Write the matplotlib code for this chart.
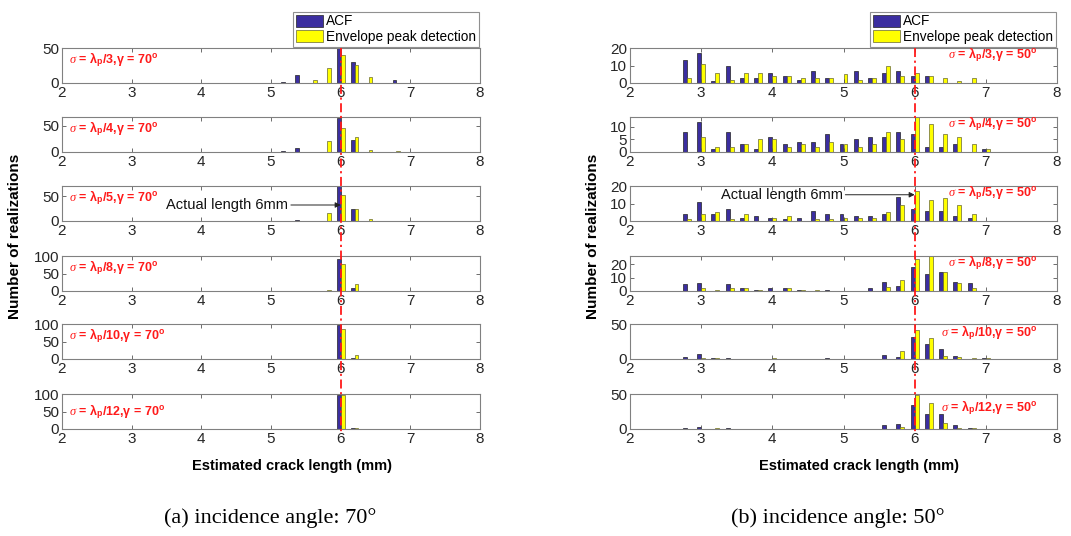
import numpy as np
import matplotlib.pyplot as plt
import matplotlib.transforms as mtransforms
from matplotlib.lines import Line2D

plt.rcParams['font.family'] = 'Liberation Sans'
plt.rcParams['mathtext.fontset'] = 'custom'
plt.rcParams['mathtext.it'] = 'Liberation Serif:italic'
plt.rcParams['mathtext.bf'] = 'Liberation Sans:bold'
plt.rcParams['mathtext.rm'] = 'Liberation Sans:bold'

# bin centres (mm)
bins = [2.6, 2.8, 3.0, 3.2, 3.4, 3.6, 3.8, 4.0, 4.2, 4.4, 4.6, 4.8,
        5.0, 5.2, 5.4, 5.6, 5.8, 6.0, 6.2, 6.4, 6.6, 6.8, 7.0]
divisors = [3, 4, 5, 8, 10, 12]

# incidence angle 70 deg
acf70_3 = [0, 0, 0, 0, 0, 0, 0, 0, 0, 0, 0, 0, 0, 1, 11, 0, 0, 53, 30, 0, 0, 5, 0]
env70_3 = [0, 0, 0, 0, 0, 0, 0, 0, 0, 0, 0, 0, 0, 0, 0, 4, 21, 40, 26, 9, 0, 0, 0]
acf70_4 = [0, 0, 0, 0, 0, 0, 0, 0, 0, 0, 0, 0, 0, 1, 7, 0, 0, 66, 23, 0, 0, 0, 0]
env70_4 = [0, 0, 0, 0, 0, 0, 0, 0, 0, 0, 0, 0, 0, 0, 0, 0, 22, 46, 29, 3, 0, 1, 0]
acf70_5 = [0, 0, 0, 0, 0, 0, 0, 0, 0, 0, 0, 0, 0, 0, 2, 0, 0, 70, 24, 0, 0, 0, 0]
env70_5 = [0, 0, 0, 0, 0, 0, 0, 0, 0, 0, 0, 0, 0, 0, 0, 0, 16, 53, 25, 5, 0, 0, 0]
acf70_8 = [0, 0, 0, 0, 0, 0, 0, 0, 0, 0, 0, 0, 0, 0, 0, 0, 0, 91, 9, 0, 0, 0, 0]
env70_8 = [0, 0, 0, 0, 0, 0, 0, 0, 0, 0, 0, 0, 0, 0, 0, 0, 3, 78, 19, 0, 0, 0, 0]
acf70_10 = [0, 0, 0, 0, 0, 0, 0, 0, 0, 0, 0, 0, 0, 0, 0, 0, 1, 97, 2, 0, 0, 0, 0]
env70_10 = [0, 0, 0, 0, 0, 0, 0, 0, 0, 0, 0, 0, 0, 0, 0, 0, 1, 86, 12, 0, 0, 0, 0]
acf70_12 = [0, 0, 0, 0, 0, 0, 0, 0, 0, 0, 0, 0, 0, 0, 0, 0, 0, 97, 3, 0, 0, 0, 0]
env70_12 = [0, 0, 0, 0, 0, 0, 0, 0, 0, 0, 0, 0, 0, 0, 0, 0, 0, 97, 3, 0, 0, 0, 0]

# incidence angle 50 deg
acf50_3 = [0, 13, 17, 1, 10, 3, 3, 6, 4, 2, 7, 3, 0, 7, 3, 6, 7, 4, 4, 0, 0, 0, 0]
env50_3 = [0, 3, 11, 6, 2, 6, 6, 4, 4, 3, 3, 3, 5, 2, 3, 10, 4, 6, 4, 3, 1, 3, 0]
acf50_4 = [0, 8, 12, 1, 8, 3, 1, 6, 3, 4, 4, 7, 3, 5, 6, 6, 8, 7, 2, 2, 3, 0, 1]
env50_4 = [0, 0, 6, 2, 2, 3, 5, 5, 2, 3, 2, 4, 3, 2, 3, 8, 5, 14, 11, 7, 6, 3, 1]
acf50_5 = [0, 4, 11, 4, 7, 2, 3, 2, 1, 2, 6, 4, 4, 3, 3, 4, 14, 7, 6, 6, 3, 2, 0]
env50_5 = [0, 1, 4, 5, 1, 4, 0, 2, 3, 0, 1, 1, 2, 2, 2, 5, 9, 17, 12, 13, 9, 4, 0]
acf50_8 = [0, 5, 6, 0, 5, 2, 1, 2, 2, 1, 0, 1, 0, 0, 2, 7, 4, 18, 13, 14, 7, 6, 0]
env50_8 = [0, 0, 2, 1, 2, 2, 1, 0, 2, 1, 1, 0, 0, 0, 0, 3, 8, 24, 26, 14, 6, 2, 0]
acf50_10 = [0, 3, 7, 1, 2, 0, 0, 0, 0, 0, 0, 2, 0, 0, 0, 6, 3, 31, 21, 15, 5, 0, 1]
env50_10 = [0, 0, 1, 1, 0, 0, 0, 1, 0, 0, 0, 0, 0, 0, 0, 0, 12, 42, 30, 4, 3, 2, 2]
acf50_12 = [0, 1, 3, 0, 2, 0, 0, 0, 0, 0, 0, 0, 0, 0, 0, 6, 7, 35, 21, 21, 6, 1, 0]
env50_12 = [0, 0, 0, 2, 0, 0, 0, 0, 0, 0, 0, 0, 0, 0, 0, 0, 3, 48, 37, 9, 2, 1, 0]

acf70 = [acf70_3, acf70_4, acf70_5, acf70_8, acf70_10, acf70_12]
env70 = [env70_3, env70_4, env70_5, env70_8, env70_10, env70_12]
acf50 = [acf50_3, acf50_4, acf50_5, acf50_8, acf50_10, acf50_12]
env50 = [env50_3, env50_4, env50_5, env50_8, env50_10, env50_12]

ytop70 = [50, 67, 70, 100, 100, 100]
yticks70 = [[0, 50], [0, 50], [0, 50], [0, 50, 100], [0, 50, 100], [0, 50, 100]]
ytop50 = [20, 14, 20, 26, 50, 50]
yticks50 = [[0, 10, 20], [0, 5, 10], [0, 10, 20], [0, 10, 20], [0, 50], [0, 50]]

actual_len = 6.0

acf_color = '#3b2ea0'
env_color = '#ffff00'
red = '#ff1a1a'

W, H = 1071, 536
fig = plt.figure(figsize=(W / 100, H / 100), dpi=100)

row_tops = [48, 117, 186, 256, 324, 394]
ax_h = 35
label_y70 = [0.66, 0.66, 0.68, 0.68, 0.66, 0.50]
label_y50 = [0.80, 0.80, 0.80, 0.80, 0.75, 0.62]
bw = 0.055
off = 0.028
x = np.array(bins)


def draw_column(x0, x1, acfs, envs, ytops, yticks, angle, label_side, label_ys):
    axes = []
    for i in range(6):
        top = row_tops[i]
        ax = fig.add_axes([x0 / W, 1 - (top + ax_h) / H, (x1 - x0) / W, ax_h / H])
        ax.bar(x - off, acfs[i], width=bw, color=acf_color, edgecolor='#222222',
               linewidth=0.5, label='ACF')
        ax.bar(x + off, envs[i], width=bw, color=env_color, edgecolor='#666633',
               linewidth=0.5, label='Envelope peak detection')
        ax.set_xlim(2, 8)
        ax.set_ylim(0, ytops[i])
        ax.set_xticks([2, 3, 4, 5, 6, 7, 8])
        ax.set_yticks(yticks[i])
        ax.tick_params(direction='in', top=True, right=True, length=3,
                       width=0.6, colors='#555555', labelcolor='#262626',
                       labelsize=11, pad=2)
        for s in ax.spines.values():
            s.set_color('#808080')
            s.set_linewidth(0.8)
        txt = (r'$\sigma$ = $\mathbf{\lambda}_\mathbf{p}$/%d,$\mathbf{\gamma}$ = %d$^\mathbf{o}$'
               % (divisors[i], angle))
        if label_side == 'left':
            ax.text(2.1, label_ys[i] * ytops[i], txt, color=red, fontsize=9,
                    fontweight='bold', ha='left', va='center')
        else:
            ax.text(7.72, label_ys[i] * ytops[i], txt, color=red, fontsize=9,
                    fontweight='bold', ha='right', va='center')
        axes.append(ax)
    # red dash-dot line spanning all rows
    trans = mtransforms.blended_transform_factory(axes[0].transData, fig.transFigure)
    fig.add_artist(Line2D([actual_len, actual_len],
                          [1 - row_tops[0] / H, 1 - (row_tops[-1] + ax_h + 3) / H],
                          transform=trans, color=red, linestyle=(0, (5, 2, 1.2, 2)),
                          linewidth=1.3, zorder=10))
    leg = axes[0].legend(loc='lower right', bbox_to_anchor=(1.0, 1.0), borderaxespad=0.1,
                         fontsize=9.8, handlelength=2.0, handleheight=1.0,
                         labelspacing=0.12, borderpad=0.2, handletextpad=0.2,
                         fancybox=False, framealpha=1)
    leg.get_frame().set_edgecolor('#909090')
    leg.get_frame().set_linewidth(0.8)
    return axes


axL = draw_column(62, 480, acf70, env70, ytop70, yticks70, 70, 'left', label_y70)
axR = draw_column(630, 1057, acf50, env50, ytop50, yticks50, 50, 'right', label_y50)

axL[2].annotate('Actual length 6mm', xy=(actual_len, 32), xytext=(4.37, 32),
                ha='center', va='center', fontsize=10.5, color='#111111',
                arrowprops=dict(arrowstyle='-|>', color='#222222', lw=0.7,
                                mutation_scale=8, shrinkA=0, shrinkB=0))
axR[2].annotate('Actual length 6mm', xy=(actual_len, 15), xytext=(4.13, 15),
                ha='center', va='center', fontsize=10.5, color='#111111',
                arrowprops=dict(arrowstyle='-|>', color='#222222', lw=0.7,
                                mutation_scale=8, shrinkA=0, shrinkB=0))

for xc in (15, 593):
    fig.text(xc / W, 1 - 236 / H, 'Number of realizations', rotation=90,
             ha='center', va='center', fontsize=11, fontweight='bold')
for xc in (292, 859):
    fig.text(xc / W, 1 - 466 / H, 'Estimated crack length (mm)',
             ha='center', va='center', fontsize=10.5, fontweight='bold')

fig.text(270 / W, 1 - 518 / H, '(a) incidence angle: 70°', ha='center', va='center',
         fontsize=16, family='Liberation Serif')
fig.text(838 / W, 1 - 518 / H, '(b) incidence angle: 50°', ha='center', va='center',
         fontsize=16, family='Liberation Serif')

fig.savefig('out.png', dpi=100)
